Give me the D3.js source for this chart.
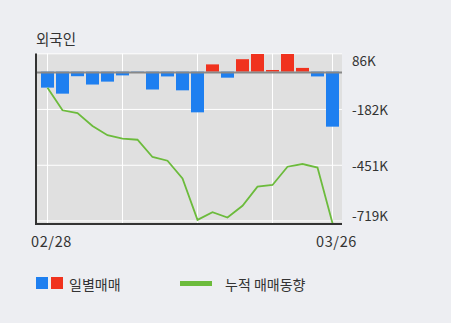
<!DOCTYPE html>
<html>
<head>
<meta charset="utf-8">
<script src="https://cdn.jsdelivr.net/npm/d3@7"></script>
<style>
html,body{margin:0;padding:0;background:#edeef2;}
svg{display:block;}
text{font-family:"Noto Sans CJK KR","Noto Sans",sans-serif;fill:#333;}
</style>
</head>
<body>
<svg id="chart" width="451" height="323"></svg>
<script>
const dates = ["02/28","03/02","03/03","03/04","03/05","03/06","03/09","03/10","03/11","03/12",
               "03/13","03/16","03/17","03/18","03/19","03/20","03/23","03/24","03/25","03/26"];
const daily = [-77,-106,-22,-62,-48,-18,-5,-86,-23,-90,-196,35,-29,60,85,8,85,18,-23,-265];
const cumulative = [-77,-186,-200,-262,-306,-323,-328,-411,-429,-514,-714,-677,-703,-646,-554,-546,-458,-445,-462,-730];
const tickValues = [86,-182,-451,-719];
const tickLabels = ["86K","-182K","-451K","-719K"];
const gridIdx = [0,5,10,15,19];
const xLabels = ["02/28","03/26"];
const legendItems = ["일별매매","누적 매매동향"];
const title = "외국인";

const svg = d3.select("#chart");
const plot = {left:37, right:342, top:53.5, bottom:223};

const x = d3.scalePoint().domain(dates).range([37.5,342.5]).padding(2/3);
const y = d3.scaleLinear().domain([86,-719]).range([53.8,220.9]);

svg.append("defs").append("clipPath").attr("id","clip")
  .append("rect").attr("x",plot.left).attr("y",plot.top)
  .attr("width",plot.right-plot.left).attr("height",plot.bottom-plot.top);

// plot background
svg.append("rect").attr("x",plot.left).attr("y",plot.top)
  .attr("width",plot.right-plot.left).attr("height",plot.bottom-plot.top)
  .attr("fill","#e0e0e0");

// gridlines
svg.append("g").selectAll("line").data(tickValues).join("line")
  .attr("x1",plot.left).attr("x2",plot.right)
  .attr("y1",d=>y(d)).attr("y2",d=>y(d))
  .attr("stroke","#fff").attr("stroke-width",1);
svg.append("g").selectAll("line").data(gridIdx).join("line")
  .attr("x1",i=>x(dates[i])).attr("x2",i=>x(dates[i]))
  .attr("y1",plot.top).attr("y2",plot.bottom)
  .attr("stroke","#fff").attr("stroke-width",1);

// bars
const bw = 13;
svg.append("g").attr("clip-path","url(#clip)")
  .selectAll("rect").data(daily).join("rect")
  .attr("x",(d,i)=>x(dates[i])-bw/2)
  .attr("width",bw)
  .attr("y",d=>d>=0?y(d):y(0))
  .attr("height",d=>Math.abs(y(d)-y(0)))
  .attr("fill",d=>d>=0?"#f0321e":"#1e7ff0");

// zero line
svg.append("line").attr("x1",plot.left).attr("x2",plot.right)
  .attr("y1",y(0)+0.8).attr("y2",y(0)+0.8)
  .attr("stroke","#888").attr("stroke-width",2);

// cumulative line
svg.append("path").datum(cumulative).attr("clip-path","url(#clip)")
  .attr("d",d3.line().x((d,i)=>x(dates[i])).y(d=>y(d)))
  .attr("fill","none").attr("stroke","#6cbb3c").attr("stroke-width",1.8);

// axes lines
svg.append("line").attr("x1",36).attr("x2",36).attr("y1",plot.top).attr("y2",225)
  .attr("stroke","#333").attr("stroke-width",2);
svg.append("line").attr("x1",35).attr("x2",plot.right).attr("y1",224).attr("y2",224)
  .attr("stroke","#333").attr("stroke-width",2);

// y tick labels
svg.append("g").selectAll("text").data(tickValues).join("text")
  .attr("x",352).attr("y",d=>Math.max(60,Math.min(215,y(d))))
  .attr("dominant-baseline","central")
  .attr("font-size",13.5)
  .text((d,i)=>tickLabels[i]);

// x labels
svg.append("g").selectAll("text").data(xLabels).join("text")
  .attr("x",d=>x(d)+4).attr("y",247)
  .attr("text-anchor","middle").attr("font-size",14.5)
  .attr("letter-spacing",0.6)
  .text(d=>d);

// title
svg.append("text").attr("x",36).attr("y",45).attr("font-size",14.5).text(title);

// legend
svg.append("rect").attr("x",36).attr("y",277).attr("width",12).attr("height",12).attr("fill","#1e7ff0");
svg.append("rect").attr("x",51).attr("y",277).attr("width",12).attr("height",12).attr("fill","#f0321e");
svg.append("text").attr("x",69).attr("y",283.5).attr("dominant-baseline","central")
  .attr("font-size",14).text(legendItems[0]);
svg.append("line").attr("x1",180).attr("x2",212).attr("y1",283.5).attr("y2",283.5)
  .attr("stroke","#6cbb3c").attr("stroke-width",5);
svg.append("text").attr("x",225).attr("y",283.5).attr("dominant-baseline","central")
  .attr("font-size",14).text(legendItems[1]);
</script>
</body>
</html>
